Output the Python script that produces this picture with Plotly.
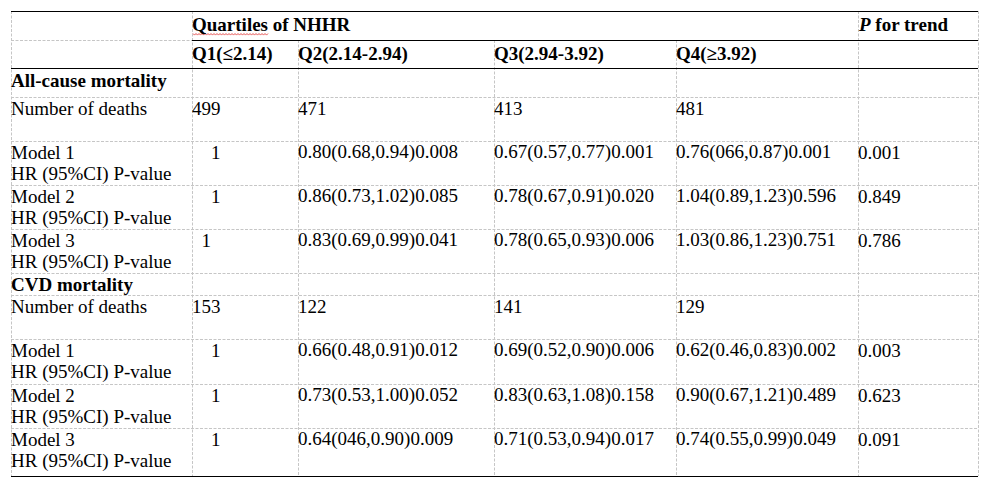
import plotly.graph_objects as go

# ---------------- data ----------------
group_header = "Quartiles of NHHR"
trend_header = "<i>P</i> for trend"
quartile_labels = ["Q1(≤2.14)", "Q2(2.14-2.94)", "Q3(2.94-3.92)", "Q4(≥3.92)"]
section_labels = ["All-cause mortality", "CVD mortality"]
deaths_label = "Number of deaths"
model_labels = ["Model 1", "Model 2", "Model 3"]
model_sublabel = "HR (95%CI) P-value"

all_deaths = ["499", "471", "413", "481"]
all_q1 = ["1", "1", "1"]
all_q2 = ["0.80(0.68,0.94)0.008", "0.86(0.73,1.02)0.085", "0.83(0.69,0.99)0.041"]
all_q3 = ["0.67(0.57,0.77)0.001", "0.78(0.67,0.91)0.020", "0.78(0.65,0.93)0.006"]
all_q4 = ["0.76(066,0.87)0.001", "1.04(0.89,1.23)0.596", "1.03(0.86,1.23)0.751"]
all_trend = ["0.001", "0.849", "0.786"]

cvd_deaths = ["153", "122", "141", "129"]
cvd_q1 = ["1", "1", "1"]
cvd_q2 = ["0.66(0.48,0.91)0.012", "0.73(0.53,1.00)0.052", "0.64(046,0.90)0.009"]
cvd_q3 = ["0.69(0.52,0.90)0.006", "0.83(0.63,1.08)0.158", "0.71(0.53,0.94)0.017"]
cvd_q4 = ["0.62(0.46,0.83)0.002", "0.90(0.67,1.21)0.489", "0.74(0.55,0.99)0.049"]
cvd_trend = ["0.003", "0.623", "0.091"]

# ---------------- layout / style ----------------
W, H = 999, 490
BODY = 8  # default page margin around the plot div
FONT = "Liberation Serif"
FS = 19
col_edges = [11, 192, 298, 494, 676, 858, 978]
row_edges = [11, 40, 68, 97, 141, 185, 229, 273, 295, 339, 384, 428, 476]
first_base = [19.5, 20, 19, 17.5, 17.5, 17.5, 17.5, 17.5, 17.5, 17.5, 17.5, 17.5]
line_gap = 22
ref_indent = {"all": [4, 4, 2], "cvd": [4, 4, 4]}
PAD = 0.3
MID = 0.335 * FS  # baseline -> middle of text box
GRID = "#c6c6c6"
DASH = "3px,1.5px"

fig = go.Figure()
fig.add_trace(go.Scatter(x=[BODY, W - BODY], y=[BODY, H - BODY], mode="markers",
                         marker=dict(opacity=0), hoverinfo="skip", showlegend=False))

annotations = []


def put(col, row, text, bold=False, line=0):
    base = row_edges[row] + first_base[row] + line * line_gap
    t = f"<b>{text}</b>" if bold else text
    annotations.append(dict(
        x=col_edges[col] + PAD, y=base - MID, xref="x", yref="y",
        text=t, showarrow=False, xanchor="left", yanchor="middle",
        align="left", borderpad=0, borderwidth=0,
        font=dict(family=FONT, size=FS, color="black")))


# header
put(1, 0, group_header, bold=True)
put(5, 0, trend_header, bold=True)
for i, q in enumerate(quartile_labels):
    put(1 + i, 1, q, bold=True)

blocks = [
    ("all", 2, all_deaths, [all_q1, all_q2, all_q3, all_q4], all_trend),
    ("cvd", 7, cvd_deaths, [cvd_q1, cvd_q2, cvd_q3, cvd_q4], cvd_trend),
]
for si, (key, r0, deaths, qs, trend) in enumerate(blocks):
    put(0, r0, section_labels[si], bold=True)
    put(0, r0 + 1, deaths_label)
    for i, d in enumerate(deaths):
        put(1 + i, r0 + 1, d)
    for m in range(3):
        r = r0 + 2 + m
        put(0, r, model_labels[m])
        put(0, r, model_sublabel, line=1)
        for qi in range(4):
            val = qs[qi][m]
            if qi == 0:
                val = "\u00a0" * ref_indent[key][m] + val
            put(1 + qi, r, val)
        put(5, r, trend[m])

shapes = []


def hline(y, x0, x1, solid):
    shapes.append(dict(type="line", xref="x", yref="y", x0=x0, x1=x1, y0=y + 0.5, y1=y + 0.5,
                       line=dict(color="black" if solid else GRID, width=1,
                                 dash="solid" if solid else DASH)))


def vline(x, y0, y1):
    shapes.append(dict(type="line", xref="x", yref="y", x0=x + 0.5, x1=x + 0.5, y0=y0, y1=y1,
                       line=dict(color=GRID, width=1, dash=DASH)))


left, right = col_edges[0], col_edges[-1]
top, bottom = row_edges[0], row_edges[-1]
for ci, x in enumerate(col_edges):
    if ci in (2, 3, 4):
        vline(x, row_edges[1], bottom)
    else:
        vline(x, top, bottom)
for y in row_edges[3:-1]:
    hline(y, left, right, False)
hline(row_edges[1], left, col_edges[1], False)
hline(row_edges[1], col_edges[1], right, True)
hline(row_edges[0], left, right, True)
hline(row_edges[2], left, right, True)
hline(row_edges[-1], left, right, True)

# spell-check wavy underline under "Quartiles"
wx0, wx1, wy = col_edges[1] + 1, col_edges[1] + 76, row_edges[0] + 22.5
pts = []
k = 0
x = wx0
while x <= wx1:
    pts.append((x, wy + (0 if k % 2 == 0 else 1.6)))
    x += 1.5
    k += 1
path = "M " + " L ".join(f"{px:.1f},{py:.1f}" for px, py in pts)
shapes.append(dict(type="path", xref="x", yref="y", path=path,
                   line=dict(color="#e03030", width=0.8)))

# the plot div sits inside the page's default 8px body margin, so the axes
# map straight onto window pixels
fig.update_layout(
    width=W - 2 * BODY, height=H - 2 * BODY, margin=dict(l=0, r=0, t=0, b=0),
    paper_bgcolor="white", plot_bgcolor="white",
    xaxis=dict(range=[BODY, W - BODY], visible=False, fixedrange=True),
    yaxis=dict(range=[H - BODY, BODY], visible=False, fixedrange=True),
    showlegend=False, annotations=annotations, shapes=shapes,
)
fig.write_html("out.html")
